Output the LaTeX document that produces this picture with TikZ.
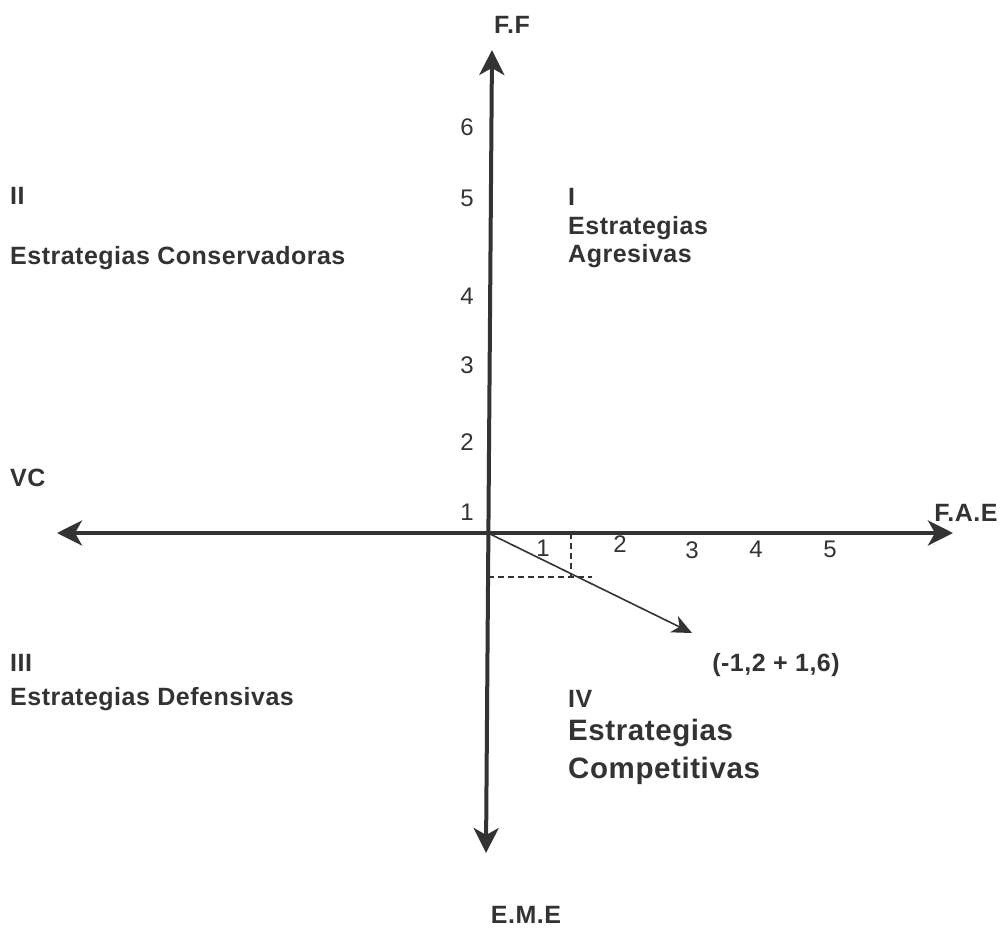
\documentclass[tikz,border=0pt]{standalone}
\usepackage{fontspec}
\setmainfont{Liberation Sans}
\newfontfamily\labfont[LetterSpace=2]{Liberation Sans}
\usetikzlibrary{arrows.meta}
\definecolor{ink}{HTML}{333333}
\tikzset{
  axis/.style={draw=ink, line width=4pt, {Stealth[length=25pt,width=25pt,inset=7pt]}-{Stealth[length=25pt,width=25pt,inset=7pt]}},
  lbl/.style={text=ink, font=\labfont\fontsize{25}{29}\selectfont\bfseries, inner sep=0pt, anchor=west, align=left},
  big/.style={text=ink, font=\labfont\fontsize{29.5}{34}\selectfont\bfseries, inner sep=0pt, anchor=west, align=left},
  num/.style={text=ink, font=\fontsize{24}{28}\selectfont, inner sep=0pt},
  guide/.style={draw=ink, line width=1.2pt, dash pattern=on 6pt off 4pt},
  vec/.style={draw=ink, line width=1.6pt, -{Stealth[length=20pt,width=18pt,inset=6pt]}}
}
\begin{document}
\begin{tikzpicture}[x=1pt,y=-1pt]
\useasboundingbox (0,0) rectangle (1002,929);
\coordinate (top) at (492,50);
\coordinate (bot) at (486,853);
\coordinate (left) at (57,533);
\coordinate (right) at (953,533);
\coordinate (o) at (488,533);
\coordinate (tip) at (692,633);
\coordinate (dx) at (571,533);
\coordinate (dy) at (488,577);
\coordinate (dxe) at (571,578);
\coordinate (dye) at (592,577);
\draw[axis] (bot) -- (top);
\draw[axis] (left) -- (right);
\draw[guide] (dx) -- (dxe);
\draw[guide] (dy) -- (dye);
\draw[vec] (o) -- (tip);
% axis labels
\node[lbl, anchor=center] (ff) at (512,25) {F.F};
\node[lbl, anchor=center] (fae) at (966,513) {F.A.E};
\node[lbl, anchor=center] (eme) at (526,915) {E.M.E};
\node[lbl] (vc) at (10,478) {VC};
% quadrant labels
\node[lbl] (q2) at (10,196) {II};
\node[lbl] (q2t) at (10,258) {Estrategias Conservadoras};
\node[lbl] (q1) at (568,197) {I};
\node[lbl] (q1a) at (568,228) {Estrategias};
\node[lbl] (q1b) at (568,256) {Agresivas};
\node[lbl] (q3) at (10,663) {III};
\node[lbl] (q3t) at (10,699) {Estrategias Defensivas};
\node[lbl] (q4) at (568,699) {IV};
\node[big] (q4a) at (568,733) {Estrategias};
\node[big] (q4b) at (568,771) {Competitivas};
\node[lbl, anchor=center] (pt) at (776,665) {(-1,2 + 1,6)};
% numbers on vertical axis
\node[num] (v6) at (467,127) {6};
\node[num] (v5) at (467,198) {5};
\node[num] (v4) at (467,296) {4};
\node[num] (v3) at (467,365) {3};
\node[num] (v2) at (467,442) {2};
\node[num] (v1) at (467,512) {1};
% numbers on horizontal axis
\node[num] (h1) at (543,548) {1};
\node[num] (h2) at (620,544) {2};
\node[num] (h3) at (692,550) {3};
\node[num] (h4) at (756,549) {4};
\node[num] (h5) at (830,549) {5};
\end{tikzpicture}
\end{document}
